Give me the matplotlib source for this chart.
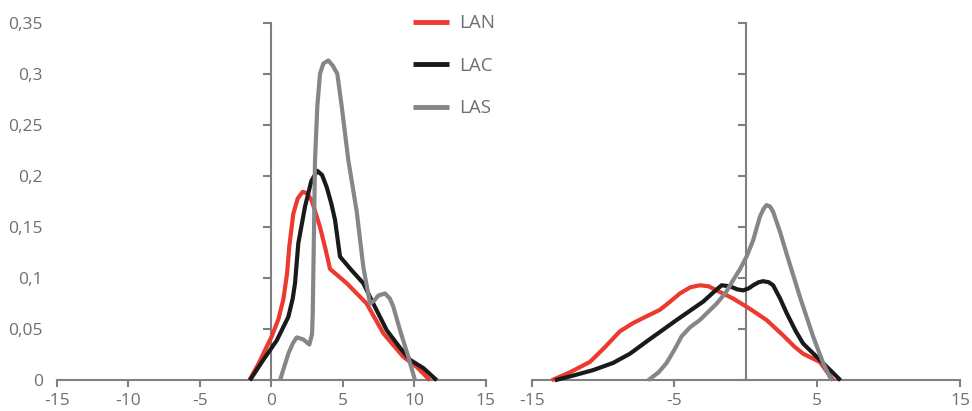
import matplotlib
matplotlib.use("Agg")
import matplotlib.pyplot as plt

plt.rcParams['font.family'] = ['Open Sans', 'DejaVu Sans']

# ---------------- data ----------------
series_names = ["LAN", "LAC", "LAS"]
colors = ["#ec3a30", "#1a1a1a", "#86868a"]

# left panel
left_lan_x = [-1.54, -0.9, -0.56, 0.03, 0.5, 0.84, 1.1, 1.26, 1.54, 1.85, 2.2, 2.5, 2.83, 3.41, 3.8, 4.11, 5.28, 6.68, 7.84, 9.24, 10.18, 11.11]
left_lan_y = [0.0, 0.016, 0.026, 0.043, 0.060, 0.079, 0.104, 0.131, 0.163, 0.178, 0.1845, 0.183, 0.176, 0.150, 0.128, 0.109, 0.095, 0.075, 0.046, 0.023, 0.013, 0.0]
left_lac_x = [-1.5, -0.56, 0.38, 1.19, 1.5, 1.66, 1.89, 2.36, 2.8, 3.22, 3.55, 3.88, 4.2, 4.46, 4.81, 5.6, 6.44, 7.14, 8.08, 9.0, 9.71, 10.64, 11.58]
left_lac_y = [0.0, 0.020, 0.039, 0.062, 0.080, 0.095, 0.134, 0.170, 0.195, 0.205, 0.201, 0.189, 0.173, 0.157, 0.121, 0.108, 0.095, 0.075, 0.049, 0.032, 0.020, 0.012, 0.0]
left_las_x = [0.61, 0.9, 1.19, 1.5, 1.78, 2.24, 2.66, 2.85, 2.9, 2.95, 3.06, 3.22, 3.41, 3.64, 3.99, 4.3, 4.62, 4.93, 5.39, 5.98, 6.44, 6.91, 7.2, 7.5, 7.96, 8.3, 8.54, 9.01, 9.59, 10.06]
left_las_y = [0.0, 0.013, 0.026, 0.036, 0.042, 0.040, 0.035, 0.045, 0.065, 0.111, 0.2155, 0.268, 0.300, 0.310, 0.313, 0.308, 0.300, 0.268, 0.2155, 0.165, 0.111, 0.075, 0.078, 0.083, 0.085, 0.080, 0.072, 0.049, 0.023, 0.0]

# right panel
right_lan_x = [-13.6, -12.3, -10.92, -9.9, -8.82, -7.9, -7.19, -6.02, -5.3, -4.62, -3.9, -3.22, -2.6, -2.05, -0.89, 0.28, 1.45, 2.61, 3.4, 4.01, 5.18, 6.11]
right_lan_y = [0.0, 0.008, 0.018, 0.032, 0.048, 0.056, 0.061, 0.069, 0.077, 0.085, 0.091, 0.093, 0.092, 0.088, 0.080, 0.070, 0.059, 0.044, 0.033, 0.026, 0.018, 0.0]
right_lac_x = [-13.38, -12.0, -10.69, -9.3, -8.12, -6.95, -4.85, -2.99, -2.2, -1.70, -1.12, -0.6, -0.19, 0.2, 0.51, 0.9, 1.21, 1.6, 1.91, 2.4, 2.85, 3.5, 4.01, 5.18, 6.63]
right_lac_y = [0.0, 0.005, 0.010, 0.017, 0.026, 0.038, 0.059, 0.077, 0.087, 0.093, 0.092, 0.089, 0.088, 0.090, 0.093, 0.096, 0.097, 0.096, 0.093, 0.080, 0.066, 0.048, 0.036, 0.020, 0.0]
right_las_x = [-6.84, -6.1, -5.55, -5.0, -4.5, -3.9, -3.22, -2.05, -1.4, -0.89, -0.4, 0.05, 0.51, 0.98, 1.25, 1.45, 1.7, 1.91, 2.4, 2.85, 3.78, 4.71, 5.41, 6.0]
right_las_y = [0.0, 0.008, 0.017, 0.030, 0.043, 0.052, 0.059, 0.075, 0.086, 0.098, 0.109, 0.121, 0.137, 0.160, 0.168, 0.1715, 0.170, 0.165, 0.145, 0.124, 0.082, 0.043, 0.017, 0.0]

y_ticks = [0, 0.05, 0.1, 0.15, 0.2, 0.25, 0.3, 0.35]
y_tick_labels = ["0", "0,05", "0,1", "0,15", "0,2", "0,25", "0,3", "0,35"]
left_x_ticks = [-15, -10, -5, 0, 5, 10, 15]
right_x_ticks = [-15, -5, 5, 15]

# ---------------- style ----------------
axis_col = "#808084"
text_col = "#6f6f73"
fs = 12.5
lw = 3.0

fig = plt.figure(figsize=(9.72, 4.11), dpi=100)
ax1 = fig.add_axes([57 / 972, 30.7 / 411, 428.6 / 972, 357.6 / 411])
ax2 = fig.add_axes([531.7 / 972, 30.7 / 411, 428.3 / 972, 357.6 / 411])

panels = [
    (ax1, [(left_lan_x, left_lan_y), (left_lac_x, left_lac_y), (left_las_x, left_las_y)], left_x_ticks, True),
    (ax2, [(right_lan_x, right_lan_y), (right_lac_x, right_lac_y), (right_las_x, right_las_y)], right_x_ticks, False),
]

for ax, data, xt, show_y in panels:
    for (xs, ys), c, name in zip(data, colors, series_names):
        ax.plot(xs, ys, color=c, lw=lw, label=name, solid_capstyle='butt',
                solid_joinstyle='round', clip_on=False, zorder=3)
    ax.set_xlim(-15, 15)
    ax.set_ylim(0, 0.35)
    for s in ["top", "right"]:
        ax.spines[s].set_visible(False)
    for s in ["bottom", "left"]:
        ax.spines[s].set_color(axis_col)
        ax.spines[s].set_linewidth(1.5)
        ax.spines[s].set_zorder(2)
    ax.spines["left"].set_position(("data", 0))
    ax.set_xticks(xt)
    ax.set_xticklabels([str(v) for v in xt])
    ax.tick_params(axis="x", direction="out", length=5, width=1.5, color=axis_col,
                   labelcolor=text_col, labelsize=fs, pad=4.5)
    ax.set_yticks(y_ticks)
    ax.set_yticklabels([])
    ax.tick_params(axis="y", direction="out", length=6, width=1.5, color=axis_col)
    if show_y:
        sec = ax.secondary_yaxis(0.0)
        sec.set_yticks(y_ticks)
        sec.set_yticklabels(y_tick_labels)
        sec.tick_params(axis="y", length=0, labelcolor=text_col, labelsize=fs, pad=10)
        for s in sec.spines.values():
            s.set_visible(False)
    ax.patch.set_visible(False)

leg = ax1.legend(loc="upper left", bbox_to_anchor=(405 / 972, 1 - 7 / 411),
                 bbox_transform=fig.transFigure, frameon=False, fontsize=13.5,
                 handlelength=1.95, handletextpad=0.55, labelspacing=1.3,
                 borderaxespad=0)
for t in leg.get_texts():
    t.set_color(text_col)
for h in leg.legend_handles:
    h.set_linewidth(3.5)

fig.savefig("out.png", dpi=100)
